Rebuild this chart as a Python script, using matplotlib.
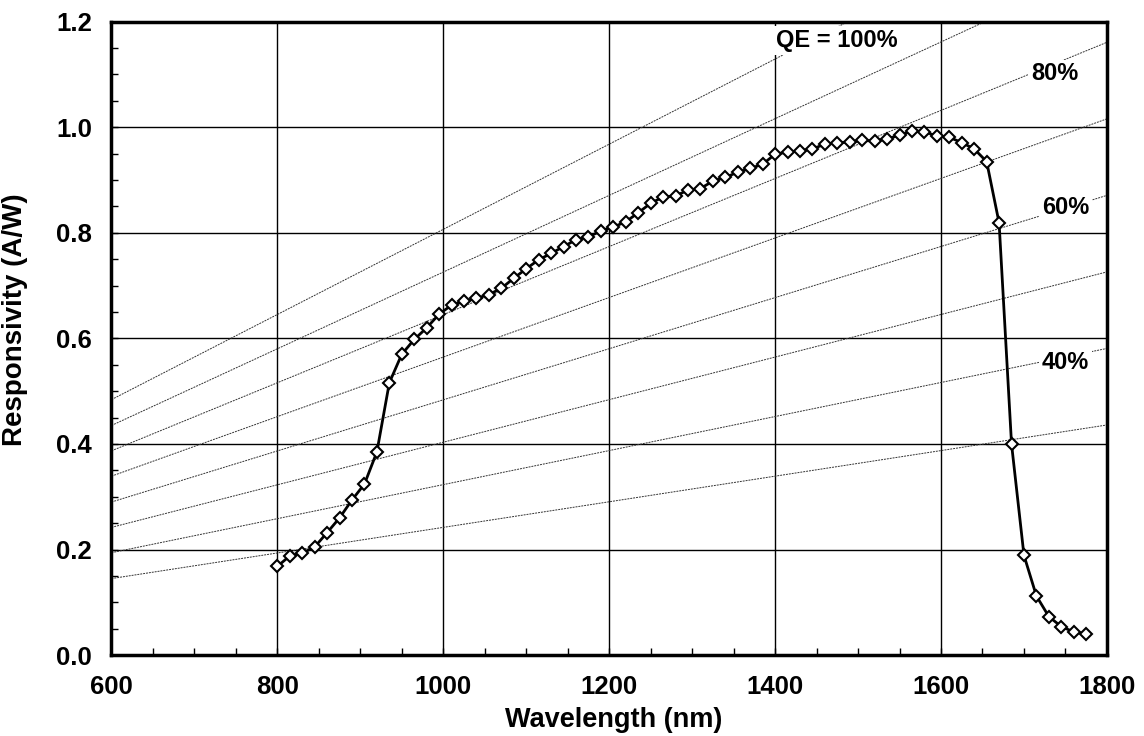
import numpy as np
import matplotlib.pyplot as plt
from matplotlib.ticker import MultipleLocator

plt.rcParams['font.family'] = ['Liberation Sans', 'DejaVu Sans']
plt.rcParams['font.weight'] = 'bold'

# measured responsivity, one point every 15 nm
wavelength = list(range(800, 1776, 15))
responsivity = [0.168, 0.188, 0.193, 0.205, 0.232, 0.260, 0.294, 0.324, 0.385, 0.516,
                0.570, 0.598, 0.620, 0.646, 0.663, 0.670, 0.676, 0.683, 0.695, 0.714,
                0.732, 0.749, 0.761, 0.774, 0.787, 0.792, 0.804, 0.811, 0.821, 0.838,
                0.856, 0.868, 0.870, 0.881, 0.884, 0.898, 0.905, 0.915, 0.922, 0.930,
                0.949, 0.953, 0.955, 0.959, 0.968, 0.971, 0.972, 0.975, 0.974, 0.978,
                0.985, 0.993, 0.992, 0.983, 0.981, 0.971, 0.959, 0.935, 0.819, 0.400,
                0.189, 0.112, 0.073, 0.054, 0.044, 0.040]

# constant QE guide lines (100% ... 30%), value at 600 nm and at 1800 nm
qe_x = [600, 1800]
qe_start = [0.484, 0.435, 0.387, 0.339, 0.290, 0.242, 0.194, 0.145]
qe_end = [1.452, 1.307, 1.161, 1.016, 0.871, 0.726, 0.581, 0.436]

qe_labels = ['QE = 100%', '80%', '60%', '40%']
qe_label_x = [1401, 1737, 1750, 1750]
qe_label_y = [1.165, 1.101, 0.848, 0.555]
qe_label_ha = ['left', 'center', 'center', 'center']

fig = plt.figure(figsize=(11.44, 7.36), dpi=100)
ax = fig.add_axes([0.0974, 0.1099, 0.8702, 0.8606])

for s, e in zip(qe_start, qe_end):
    ax.plot(qe_x, [s, e], color='#333333', lw=0.7, ls=(0, (2, 1)), zorder=2)

for t, x, y, ha in zip(qe_labels, qe_label_x, qe_label_y, qe_label_ha):
    ax.text(x, y, t, fontsize=17, fontweight='bold', ha=ha, va='center', zorder=3,
            bbox=dict(facecolor='white', edgecolor='none', pad=2))

ax.plot(wavelength, responsivity, color='black', lw=2, marker='D', ms=6,
        mfc='white', mec='black', mew=1.5, zorder=4)

ax.set_xlim(600, 1800)
ax.set_ylim(0, 1.2)
ax.xaxis.set_major_locator(MultipleLocator(200))
ax.xaxis.set_minor_locator(MultipleLocator(50))
ax.yaxis.set_major_locator(MultipleLocator(0.2))
ax.yaxis.set_minor_locator(MultipleLocator(0.05))
ax.yaxis.set_major_formatter(plt.FormatStrFormatter('%.1f'))
ax.grid(True, which='major', color='black', lw=1, zorder=1)
ax.set_axisbelow(True)
ax.tick_params(which='both', direction='in', labelsize=18.5, width=1)
ax.tick_params(which='major', length=5, pad=14)
ax.tick_params(which='minor', length=5)
for sp in ax.spines.values():
    sp.set_linewidth(2.5)

ax.set_xlabel('Wavelength (nm)', fontsize=19.5, fontweight='bold')
ax.xaxis.set_label_coords(0.505, -0.082)
ax.set_ylabel('Responsivity (A/W)', fontsize=20, fontweight='bold')
ax.yaxis.set_label_coords(-0.084, 0.53)

plt.savefig('out.png', dpi=100)
